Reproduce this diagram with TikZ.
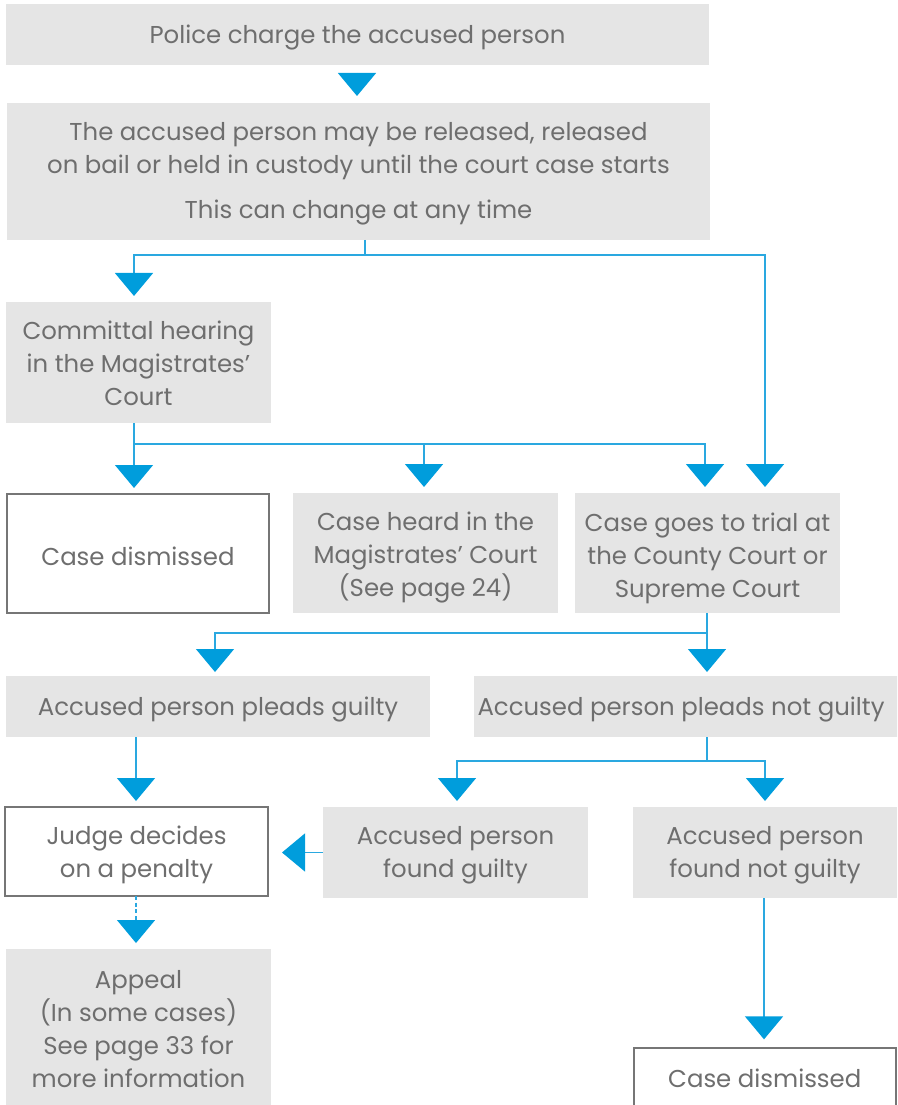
\documentclass[tikz,border=0pt]{standalone}
\usepackage{fontspec}
\setmainfont{Poppins}
\usetikzlibrary{arrows.meta,fit}
\definecolor{boxgray}{HTML}{E5E5E5}
\definecolor{txtgray}{HTML}{6E6E6E}
\definecolor{bordergray}{HTML}{767676}
\definecolor{linblue}{HTML}{2AA8E0}
\definecolor{arrblue}{HTML}{009DDC}
\tikzset{
  basebox/.style={inner sep=0pt, outer sep=0pt},
  gbox/.style={basebox, fill=boxgray},
  wbox/.style={basebox, draw=bordergray, line width=1.5pt, fill=white},
  txt/.style={inner sep=0pt, text=txtgray, align=center, anchor=center, yshift=-2.25pt,
    font=\fontsize{18.3pt}{24.75pt}\selectfont},
  plain/.style={draw=linblue, line width=1.1pt},
  conn/.style={plain, -{Triangle[width=28.5pt,length=17.25pt,color=arrblue]}, shorten >=4.5pt},
}
\begin{document}
\begin{tikzpicture}[x=0.75pt,y=-0.75pt]
\useasboundingbox (0,0) rectangle (897,1105);
\clip (0,0) rectangle (897,1105);

% boxes
\node[gbox, fit={(6,4)(709,65)}] (police) {};
\node[gbox, fit={(7,103)(710,240)}] (accused) {};
\node[gbox, fit={(6,302)(271,423)}] (committal) {};
\node[wbox, fit={(7,494)(269,613)}] (dismissA) {};
\node[gbox, fit={(293,493)(558,613)}] (heard) {};
\node[gbox, fit={(575,493)(840,613)}] (trial) {};
\node[gbox, fit={(6,676)(430,737)}] (guilty) {};
\node[gbox, fit={(474,676)(900,737)}] (notguilty) {};
\node[wbox, fit={(5,807)(268,896)}] (judge) {};
\node[gbox, fit={(323,807)(588,898)}] (foundg) {};
\node[gbox, fit={(633,807)(897,898)}] (foundng) {};
\node[gbox, fit={(6,949)(271,1110)}] (appeal) {};
\node[wbox, fit={(634,1048)(895.5,1108)}] (dismissB) {};

% texts
\node[txt] (policeT) at (police.center) {Police charge the accused person};
\node[txt, yshift=0.75pt] (accusedT) at (accused.center) {The accused person may be released, released\\on bail or held in custody until the court case starts\\[9pt]This can change at any time};
\node[txt, yshift=1.5pt] (committalT) at (committal.center) {Committal hearing\\in the Magistrates’\\Court};
\node[txt] (dismissAT) at (dismissA.center) {Case dismissed};
\node[txt, yshift=-1.5pt] (heardT) at (heard.center) {Case heard in the\\Magistrates’ Court\\(See page 24)};
\node[txt, yshift=-1.5pt] (trialT) at (trial.center) {Case goes to trial at\\the County Court or\\Supreme Court};
\node[txt] (guiltyT) at (guilty.center) {Accused person pleads guilty};
\node[txt] (notguiltyT) at (681,706.5) {Accused person pleads not guilty};
\node[txt] (judgeT) at (judge.center) {Judge decides\\on a penalty};
\node[txt] (foundgT) at (foundg.center) {Accused person\\found guilty};
\node[txt] (foundngT) at (foundng.center) {Accused person\\found not guilty};
\node[txt, yshift=2.25pt] (appealT) at (appeal.center) {Appeal\\(In some cases)\\See page 33 for\\more information};
\node[txt, yshift=2.25pt] (dismissBT) at (dismissB.center) {Case dismissed};

% connectors
\draw[conn, shorten >=5.25pt, shorten <=6pt] (police.south -| 357,0) -- (accused.north -| 357,0);

\coordinate (s1) at (365,255);
\draw[plain] (accused.south -| s1) -- (s1);
\draw[conn] (s1) -| (committal.north -| 134,0);
\draw[conn] (s1) -| (trial.north -| 765,0);

\coordinate (s2) at (134,444);
\draw[plain] (committal.south -| s2) -- (s2);
\draw[conn] (s2) -- (dismissA.north -| s2);
\draw[conn] (s2 -| 424,0) -- (heard.north -| 424,0);
\draw[conn] (s2) -| (trial.north -| 705,0);

\coordinate (s3) at (707,633);
\draw[plain] (trial.south -| s3) -- (s3);
\draw[conn, shorten >=3pt] (s3) -| (guilty.north -| 215,0);
\draw[conn, shorten >=3pt] (s3) -- (notguilty.north -| s3);

\draw[conn] (guilty.south -| 136,0) -- (judge.north -| 136,0);

\coordinate (s4) at (707,761);
\draw[plain] (notguilty.south -| s4) -- (s4);
\draw[conn] (s4) -| (foundg.north -| 457,0);
\draw[conn] (s4) -| (foundng.north -| 765,0);

\draw[conn, shorten >=10.5pt] (foundg.west) -- (judge.east |- foundg.west);

\draw[conn, dash pattern=on 3pt off 2pt] (judge.south -| 136,0) -- (appeal.north -| 136,0);

\draw[conn, shorten >=6.5pt] (foundng.south -| 764,0) -- (dismissB.north -| 764,0);
\end{tikzpicture}
\end{document}
